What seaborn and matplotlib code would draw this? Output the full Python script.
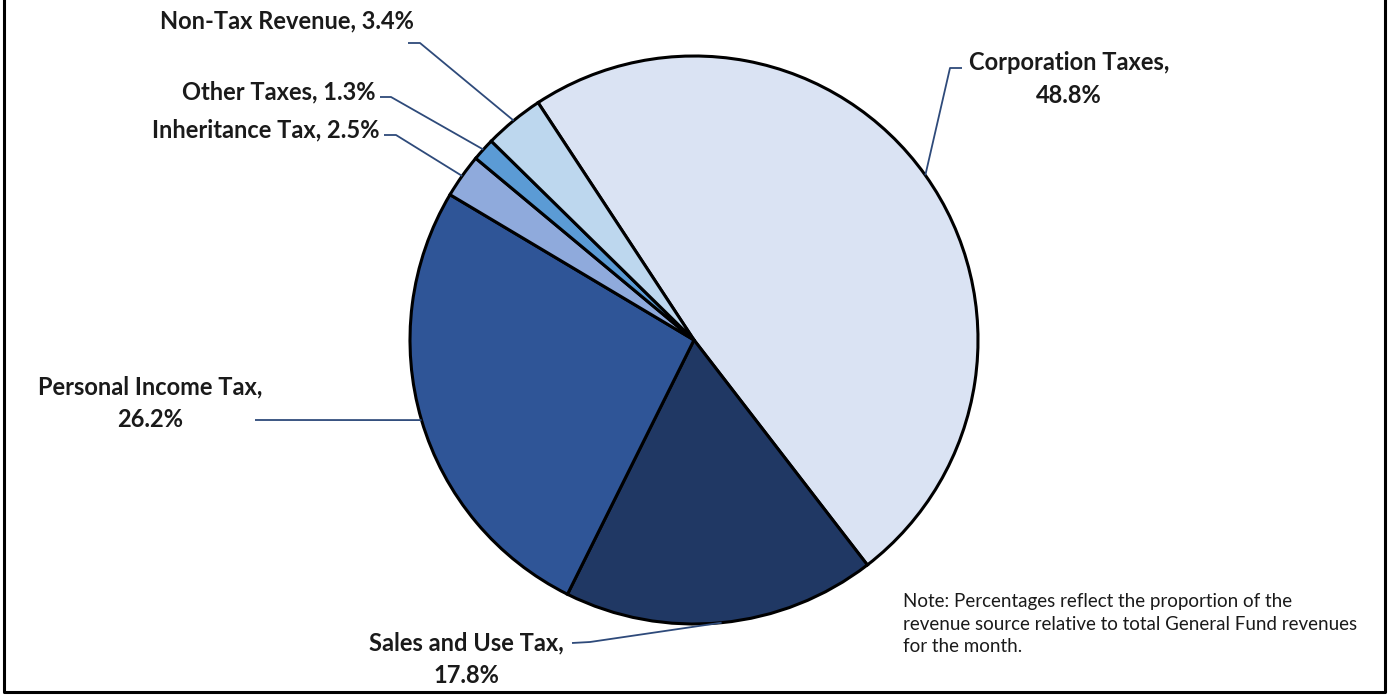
import numpy as np
import matplotlib
matplotlib.use("Agg")
import matplotlib.pyplot as plt
import seaborn as sns

# revenue shares, clockwise from the top-left
sources = ["Corporation Taxes", "Sales and Use Tax", "Personal Income Tax",
           "Inheritance Tax", "Other Taxes", "Non-Tax Revenue"]
shares = [48.8, 17.8, 26.2, 2.5, 1.3, 3.4]
colors = ["#DAE3F3", "#203864", "#2F5597", "#8FAADC", "#5B9BD5", "#BDD7EE"]

# label text, placement in pixels (x, y from top), alignment, leader start
label_text = {
    "Corporation Taxes": "Corporation Taxes,\n48.8%",
    "Sales and Use Tax": "Sales and Use Tax,\n17.8%",
    "Personal Income Tax": "Personal Income Tax,\n26.2%",
    "Inheritance Tax": "Inheritance Tax, 2.5%",
    "Other Taxes": "Other Taxes, 1.3%",
    "Non-Tax Revenue": "Non-Tax Revenue, 3.4%",
}
label_pos = {
    "Corporation Taxes": (1069, 79, "center"),
    "Sales and Use Tax": (466, 659, "center"),
    "Personal Income Tax": (150, 403, "center"),
    "Inheritance Tax": (379, 130, "right"),
    "Other Taxes": (376, 92, "right"),
    "Non-Tax Revenue": (414, 21, "right"),
}
leader_start = {
    "Corporation Taxes": [(962, 68), (950, 68)],
    "Sales and Use Tax": [(572, 643), (590, 642)],
    "Personal Income Tax": [(255, 420)],
    "Inheritance Tax": [(384, 135), (396, 135)],
    "Other Taxes": [(380, 97), (391, 97)],
    "Non-Tax Revenue": [(408, 43), (420, 43)],
}

W, H = 1389, 698
sns.set_style("white")
plt.rcParams["font.family"] = ["Lato", "DejaVu Sans"]

fig = plt.figure(figsize=(W / 100, H / 100), dpi=100)
ax = fig.add_axes([0, 0, 1, 1])

cx, cy, r = 694, H - 340, 284
start = 90 + 33.3
wedges, _ = ax.pie(shares, colors=colors, startangle=start, counterclock=False,
                   center=(cx, cy), radius=r, frame=True,
                   wedgeprops=dict(edgecolor="black", linewidth=2.2))
ax.set_xlim(0, W)
ax.set_ylim(0, H)
ax.set_aspect("equal")
ax.axis("off")

line_col = "#2E4A7A"
for w, name in zip(wedges, sources):
    mid = np.deg2rad((w.theta1 + w.theta2) / 2)
    ex, ey = cx + r * np.cos(mid), cy + r * np.sin(mid)
    pts = [(x, H - y) for x, y in leader_start[name]] + [(ex, ey)]
    xs, ys = zip(*pts)
    ax.plot(xs, ys, color=line_col, lw=1.3, solid_capstyle="butt")
    tx, ty, ha = label_pos[name]
    ax.text(tx, H - ty, label_text[name], ha=ha, va="center", fontsize=17,
            fontweight="bold", color="#1a1a1a", linespacing=1.5)

ax.text(903, H - 624, "Note: Percentages reflect the proportion of the\n"
        "revenue source relative to total General Fund revenues\nfor the month.",
        ha="left", va="center", fontsize=13.5, color="#1a1a1a", linespacing=1.38)

# frame around the chart (top edge is cut off in the original)
ax.plot([4, 4, 1385, 1385], [H + 5, H - 692, H - 692, H + 5], color="black",
        lw=2.2, clip_on=False)

fig.savefig("out.png", dpi=100)
